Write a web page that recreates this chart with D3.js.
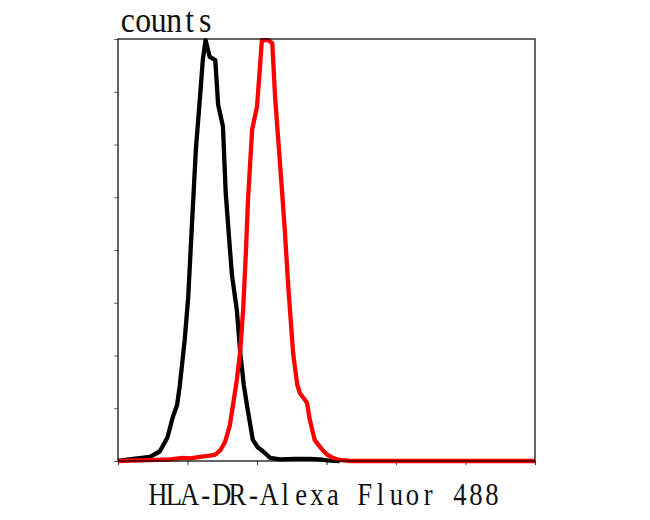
<!DOCTYPE html>
<html><head><meta charset="utf-8">
<script src="https://cdn.jsdelivr.net/npm/d3@7"></script>
<style>body{margin:0;background:#fff}</style>
</head><body>
<svg id="c" width="650" height="520"></svg>
<script>
// log-decade channel values (0..6) and event counts
const blackX = [0,0.22,0.46,0.60,0.71,0.79,0.85,0.89,0.96,1.01,1.06,1.12,1.18,1.22,1.26,1.32,1.40,1.44,1.51,1.55,1.60,1.64,1.71,1.76,1.81,1.86,1.94,2.01,2.09,2.19,2.33,2.55,2.76,2.91,3.01,3.19];
const blackY = [0,2,4,9,22,42,53,72,115,155,219,295,345,380,399,383,380,338,317,254,210,176,143,102,72,51,20,13,9,3,1.5,2,2,1.5,0.5,0];
const redX = [0,0.32,0.56,0.75,0.94,1.04,1.18,1.32,1.40,1.47,1.54,1.61,1.65,1.71,1.76,1.80,1.84,1.87,1.93,2.00,2.04,2.07,2.16,2.22,2.26,2.33,2.40,2.45,2.52,2.58,2.62,2.69,2.72,2.76,2.83,2.91,2.95,3.01,3.09,3.19,3.34,6.0];
const redY = [0,0.5,1,1.5,3,2.5,4,5,6,10,18,34,51,77,105,143,197,247,314,336,371,399,399,396,345,283,219,165,102,72,64,58,55,39,20,13,10,6,3,1,0,0];
const xTicks = [0,1,2,3,4,5,6];
const yTicks = [0,50,100,150,200,250,300,350,400];
const yLabel = "counts";
const xLabel = "HLA-DR-Alexa Fluor 488";

const svg = d3.select("#c");
const L=118, R=535, T=39, B=461;
const x = d3.scaleLinear().domain([0,6]).range([L,R]);
const y = d3.scaleLinear().domain([0,400]).range([B,T]);

svg.append("g").attr("transform",`translate(0,${B})`)
  .call(d3.axisBottom(x).tickValues(xTicks).tickSize(4).tickFormat(""))
  .call(g=>g.select(".domain").remove())
  .call(g=>g.selectAll("line").attr("stroke","#333"));
svg.append("g").attr("transform",`translate(${L},0)`)
  .call(d3.axisLeft(y).tickValues(yTicks).tickSize(4).tickFormat(""))
  .call(g=>g.select(".domain").remove())
  .call(g=>g.selectAll("line").attr("stroke","#666"));

const line = d3.line().x(d=>x(d[0])).y(d=>y(d[1]));
svg.append("path").datum(blackX.map((v,i)=>[v,blackY[i]]))
  .attr("d",line).attr("fill","none").attr("stroke","#000").attr("stroke-width",4.3).attr("stroke-linejoin","round");
svg.append("path").datum(redX.map((v,i)=>[v,redY[i]]))
  .attr("d",line).attr("fill","none").attr("stroke","#f00").attr("stroke-width",4.3).attr("stroke-linejoin","round");

svg.append("rect").attr("x",L).attr("y",T).attr("width",R-L).attr("height",B-T)
  .attr("fill","none").attr("stroke","#000").attr("stroke-width",1.2);

function monoText(str, x0, yb, cell, size, sx){
  const xs = Array.from(str).map((c,i)=>((x0 + i*cell + cell/2)/sx).toFixed(1)).join(" ");
  svg.append("text").attr("transform",`scale(${sx},1)`).attr("x",xs).attr("y",yb).attr("text-anchor","middle")
    .attr("font-family","Liberation Serif, serif")
    .attr("font-size",size).attr("fill","#111").text(str);
}
monoText(yLabel, 120, 32, 15.5, 36, 0.88);
monoText(xLabel, 150, 505, 15.9, 31, 0.86);
</script>
</body></html>
